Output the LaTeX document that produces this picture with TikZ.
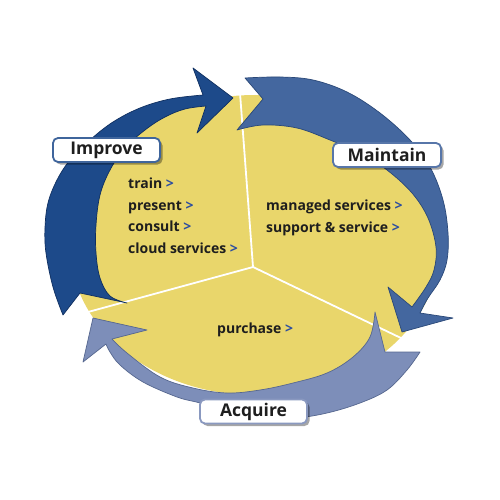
\documentclass[tikz,border=0pt]{standalone}
\usepackage{fontspec}
\setmainfont{Open Sans}
\usetikzlibrary{shadows}
\definecolor{ylw}{HTML}{E9D66B}
\definecolor{impC}{HTML}{1D4A8A}
\definecolor{impD}{HTML}{0F2F60}
\definecolor{mntC}{HTML}{44679F}
\definecolor{mntD}{HTML}{2A4878}
\definecolor{acqC}{HTML}{7D8EB9}
\definecolor{acqD}{HTML}{56678F}
\definecolor{gt}{HTML}{2B4DA0}
\definecolor{txt}{HTML}{1E1E1E}
\tikzset{
  lab/.style={rounded corners=5pt, fill=white, line width=1.8pt, minimum height=24pt,
    inner sep=0pt, font=\fontsize{17.5}{20}\selectfont\bfseries, text=txt,
    drop shadow={shadow xshift=2.5pt, shadow yshift=-2.5pt, opacity=0.35, fill=black}},
  item/.style={anchor=base west, inner sep=0pt, font=\fontsize{14}{16}\selectfont\bfseries, text=txt},
  spoke/.style={draw=white, line width=1.8pt},
  arr/.style={line width=0.7pt, line join=round}
}
\newcommand{\gtm}{\textcolor{gt}{>}}
\begin{document}
\begin{tikzpicture}[x=1pt,y=-1pt]
\useasboundingbox[fill=white] (0,0) rectangle (500,500);
% yellow disc
\fill[ylw] (255,245) ellipse [x radius=185, y radius=150];
% spokes
\coordinate (c) at (253,267);
\coordinate (s1) at (240,93);
\coordinate (s2) at (88,312);
\coordinate (s3) at (403,339);
\draw[spoke] (c) -- (s1);
\draw[spoke] (c) -- (s2);
\draw[spoke] (c) -- (s3);
% Improve arrow
\path[arr, fill=impC, draw=impD] (63,315) -- plot[smooth, tension=0.6] coordinates {(63,315) (53,287) (46,253) (45,228) (48,203) (57,180) (70,160) (90,140) (113,122) (140,108) (170,99) (203,95)}
  -- (193,68) -- (233,98) -- (197,133) -- (206,106)
  -- plot[smooth, tension=0.6] coordinates {(206,106) (185,109) (165,117) (145,130) (125,148) (110,170) (100,195) (96,225) (96,253) (100,278) (110,296) (127,303)}
  -- (80,293) -- cycle;
% Maintain arrow
\path[arr, fill=mntC, draw=mntD] (245,78) -- plot[smooth, tension=0.6] coordinates {(245,78) (280,77) (313,80) (347,92) (380,113) (410,140) (430,167) (443,200) (448,233) (447,260) (440,280) (428,298) (420,313)}
  -- (453,318) -- (402,332) -- (388,287) -- (412,307)
  -- plot[smooth, tension=0.6] coordinates {(412,307) (426,287) (434,270) (436,247) (428,218) (412,193) (387,170) (360,153) (330,140) (297,128) (263,125) (237,130)}
  -- (263,99) -- cycle;
% Acquire arrow
\path[arr, fill=acqC, draw=acqD] (420,352) -- plot[smooth, tension=0.6] coordinates {(420,352) (407,370) (387,390) (360,403) (327,413) (295,418) (260,418) (228,412) (200,403) (177,397) (143,382) (120,365) (110,352) (106,344)}
  -- (83,362) -- (93,318) -- (147,330) -- (112,339)
  -- plot[smooth, tension=0.6] coordinates {(112,339) (127,353) (160,377) (193,388) (227,393) (260,390) (293,383) (327,373) (353,357) (370,337) (375,312)}
  -- (385,352) -- cycle;
% labels
\node[lab, draw=impC!85!white, minimum width=107pt] (imp) at (106.5,150) {Improve};
\node[lab, draw=mntC!90!white, minimum width=108pt] (mnt) at (387,155) {Maintain};
\node[lab, draw=acqC!90!white, minimum width=107pt] (acq) at (253.5,411.5) {Acquire};
% items
\node[item] (i1) at (128,188) {train \gtm};
\node[item] (i2) at (128,210) {present \gtm};
\node[item] (i3) at (128,231.5) {consult \gtm};
\node[item] (i4) at (128,253) {cloud services \gtm};
\node[item] (m1) at (266,210) {managed services \gtm};
\node[item] (m2) at (266,232) {support \& service \gtm};
\node[item] (p1) at (217,333) {purchase \gtm};
\end{tikzpicture}
\end{document}
